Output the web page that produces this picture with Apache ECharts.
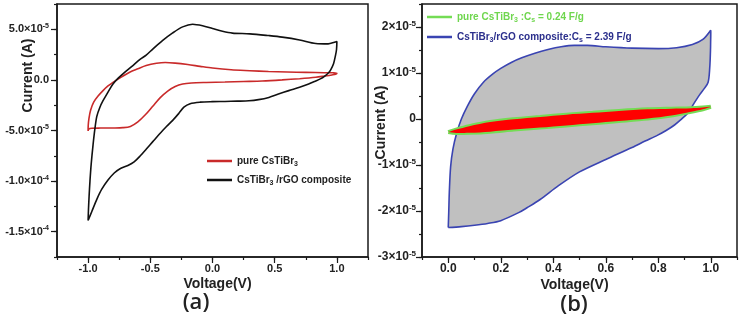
<!DOCTYPE html>
<html><head><meta charset="utf-8">
<script src="https://cdn.jsdelivr.net/npm/echarts@6/dist/echarts.min.js"></script>
<style>html,body{margin:0;padding:0;background:#fff}#c{width:741px;height:323px}</style>
</head><body><div id="c"></div>
<script>
// ---------- Panel (a): CV loops, Voltage (V) vs Current (A) ----------
const aPureLoop = [
[-1.0,-5.04e-5],[-0.999,-4.5e-5],[-0.993,-3.8e-5],[-0.98,-3.0e-5],[-0.955,-2.2e-5],[-0.92,-1.6e-5],[-0.88,-1.06e-5],[-0.84,-6.0e-6],[-0.8,-2.4e-6],[-0.73,3.0e-6],[-0.666,7.6e-6],[-0.6,1.1e-5],[-0.533,1.42e-5],[-0.45,1.64e-5],[-0.38,1.72e-5],[-0.3,1.66e-5],[-0.2,1.52e-5],[-0.1,1.34e-5],[0.0,1.17e-5],[0.15,1.0e-5],[0.3,9.1e-6],[0.45,8.3e-6],[0.6,7.8e-6],[0.75,7.4e-6],[0.9,7.1e-6],[0.97,7.0e-6],[1.0,6.6e-6],
[0.99,5.6e-6],[0.96,4.9e-6],[0.9,3.8e-6],[0.83,2.6e-6],[0.7,1.2e-6],[0.56,0],[0.4,-1.1e-6],[0.25,-1.6e-6],[0.1,-2.1e-6],[-0.05,-2.5e-6],[-0.17,-3.0e-6],[-0.24,-4.0e-6],[-0.3,-6.5e-6],[-0.36,-1.1e-5],[-0.42,-1.75e-5],[-0.48,-2.6e-5],[-0.54,-3.45e-5],[-0.6,-4.15e-5],[-0.66,-4.6e-5],[-0.72,-4.72e-5],[-0.8,-4.75e-5],[-0.9,-4.76e-5],[-0.97,-4.78e-5],[-0.995,-4.85e-5],[-1.0,-5.04e-5]
];
const aCompositeLoop = [
[-1.0,-1.39e-4],[-0.997,-1.28e-4],[-0.992,-1.15e-4],[-0.985,-1.0e-4],[-0.975,-8.3e-5],[-0.96,-6.4e-5],[-0.945,-4.8e-5],[-0.93,-3.6e-5],[-0.905,-2.7e-5],[-0.88,-2.06e-5],[-0.84,-1.2e-5],[-0.8,-4e-6],[-0.76,1.5e-6],[-0.72,6e-6],[-0.64,1.42e-5],[-0.58,2.05e-5],[-0.533,2.45e-5],[-0.48,3.05e-5],[-0.4,3.9e-5],[-0.32,4.64e-5],[-0.24,5.24e-5],[-0.16,5.5e-5],[-0.08,5.35e-5],[0.0,5.07e-5],[0.08,4.8e-5],[0.16,4.62e-5],[0.3,4.55e-5],[0.45,4.38e-5],[0.56,4.23e-5],[0.7,3.95e-5],[0.83,3.6e-5],[0.93,3.56e-5],[0.98,3.72e-5],[1.0,3.8e-5],
[0.997,3.0e-5],[0.99,2.5e-5],[0.973,1.6e-5],[0.95,1.0e-5],[0.933,7e-6],[0.9,3.5e-6],[0.867,1e-6],[0.82,-1.5e-6],[0.773,-4e-6],[0.7,-7.2e-6],[0.613,-1.06e-5],[0.53,-1.4e-5],[0.453,-1.73e-5],[0.37,-1.95e-5],[0.293,-2.06e-5],[0.2,-2.1e-5],[0.1,-2.13e-5],[0.0,-2.15e-5],[-0.1,-2.2e-5],[-0.18,-2.35e-5],[-0.23,-2.7e-5],[-0.27,-3.3e-5],[-0.32,-4.0e-5],[-0.37,-4.6e-5],[-0.43,-5.4e-5],[-0.48,-6.1e-5],[-0.53,-6.8e-5],[-0.58,-7.5e-5],[-0.63,-8.1e-5],[-0.68,-8.45e-5],[-0.74,-8.75e-5],[-0.79,-9.2e-5],[-0.84,-9.9e-5],[-0.89,-1.08e-4],[-0.93,-1.18e-4],[-0.97,-1.3e-4],[-1.0,-1.39e-4]
];
// ---------- Panel (b) ----------
const bCompositeLoop = [
[0,-2.36e-5],[0.002,-2.0e-5],[0.004,-1.6e-5],[0.009,-1.04e-5],[0.018,-0.65e-5],[0.032,-0.31e-5],[0.05,0],[0.073,0.28e-5],[0.1,0.55e-5],[0.134,0.8e-5],[0.17,0.98e-5],[0.2,1.1e-5],[0.24,1.23e-5],[0.28,1.33e-5],[0.33,1.43e-5],[0.38,1.51e-5],[0.43,1.57e-5],[0.48,1.6e-5],[0.53,1.6e-5],[0.6,1.57e-5],[0.7,1.54e-5],[0.8,1.53e-5],[0.87,1.55e-5],[0.93,1.62e-5],[0.97,1.73e-5],[1.0,1.93e-5],
[0.999,1.5e-5],[0.996,1.1e-5],[0.99,0.8e-5],[0.975,0.66e-5],[0.958,0.53e-5],[0.935,0.33e-5],[0.913,0.13e-5],[0.885,-0.02e-5],[0.862,-0.13e-5],[0.83,-0.25e-5],[0.798,-0.35e-5],[0.75,-0.48e-5],[0.7,-0.62e-5],[0.6,-0.88e-5],[0.5,-1.15e-5],[0.42,-1.45e-5],[0.35,-1.75e-5],[0.3,-1.93e-5],[0.27,-2.03e-5],[0.2,-2.21e-5],[0.15,-2.27e-5],[0.1,-2.31e-5],[0.05,-2.34e-5],[0,-2.36e-5]
];
const bPureLoop = [
[0,-2.85e-6],[0.03,-2.3e-6],[0.08,-1.55e-6],[0.16,-0.65e-6],[0.25,-0.05e-6],[0.35,0.45e-6],[0.45,0.95e-6],[0.55,1.35e-6],[0.65,1.75e-6],[0.76,2.1e-6],[0.85,2.25e-6],[0.925,2.35e-6],[0.97,2.5e-6],[1.0,2.64e-6],
[0.97,2.1e-6],[0.925,1.55e-6],[0.85,0.75e-6],[0.76,0.1e-6],[0.65,-0.45e-6],[0.55,-0.92e-6],[0.45,-1.4e-6],[0.35,-1.87e-6],[0.25,-2.3e-6],[0.16,-2.75e-6],[0.08,-3.0e-6],[0.03,-3.05e-6],[0,-2.85e-6]
];
// ---------- Tick labels ----------
const aXTickValues = [-1.0,-0.5,0,0.5,1.0];
const aXTickLabels = ['-1.0','-0.5','0.0','0.5','1.0'];
const aYTickValues = [-1.5e-4,-1.0e-4,-5.0e-5,0,5.0e-5];
const aYTickLabels = ['-1.5×10^-4','-1.0×10^-4','-5.0×10^-5','0.0','5.0×10^-5'];
const bXTickValues = [0,0.2,0.4,0.6,0.8,1.0];
const bXTickLabels = ['0.0','0.2','0.4','0.6','0.8','1.0'];
const bYTickValues = [-3e-5,-2e-5,-1e-5,0,1e-5,2e-5];
const bYTickLabels = ['-3×10^-5','-2×10^-5','-1×10^-5','0','1×10^-5','2×10^-5'];
const seriesNamesA = ['pure CsTiBr3','CsTiBr3 /rGO composite'];
const seriesNamesB = ['pure CsTiBr3 :Cs = 0.24 F/g','CsTiBr3/rGO composite:Cs = 2.39 F/g'];
const legendRich = {
  'pure CsTiBr3':'pure CsTiBr{sub|3}',
  'CsTiBr3 /rGO composite':'CsTiBr{sub|3} /rGO composite',
  'pure CsTiBr3 :Cs = 0.24 F/g':'pure CsTiBr{sub|3} :C{sub|s} = 0.24 F/g',
  'CsTiBr3/rGO composite:Cs = 2.39 F/g':'CsTiBr{sub|3}/rGO composite:C{sub|s} = 2.39 F/g'
};

const FONT = '"Liberation Sans", Arial, sans-serif';
const AX = '#1a1a1a';

function toRich(s){
  if (s.indexOf('^') >= 0){ const p = s.split('^'); return '{m|'+p[0]+'}{s|'+p[1]+'}'; }
  return '{m|'+s+'}';
}
function lookup(values, labels, eps, rich){
  return function(v){
    for (let i=0;i<values.length;i++) if (Math.abs(v-values[i]) < eps) return rich ? toRich(labels[i]) : labels[i];
    return '';
  };
}
function mainAxis(dim, grid, min, max, step, values, labels, fs, margin, name, nameGap, namePad){
  const isY = dim === 'y';
  return {
    type:'value', gridIndex:grid, min:min, max:max, interval:step,
    position: isY ? 'left' : 'bottom',
    axisLine:{show:true, onZero:false, lineStyle:{color:AX, width:1.5}},
    axisTick:{show:true, length:3, lineStyle:{color:AX, width:1.2}},
    splitLine:{show:false},
    axisLabel:{
      customValues: values, margin: margin,
      formatter: lookup(values, labels, step*1e-3, isY),
      color:'#222', fontFamily:FONT, fontWeight:'bold', fontSize:fs,
      rich: isY ? {
        m:{fontFamily:FONT, fontWeight:'bold', fontSize:fs, color:'#222', lineHeight:14},
        s:{fontFamily:FONT, fontWeight:'bold', fontSize:Math.round(fs*0.65), color:'#222', lineHeight:6, verticalAlign:'top'}
      } : undefined
    },
    name:name, nameLocation:'middle', nameGap:nameGap, nameMoveOverlap:false,
    nameTextStyle:{fontFamily:FONT, fontWeight:'bold', fontSize:14, color:'#222', padding:namePad}
  };
}
function majorAxis(dim, grid, min, max, values){
  return {
    type:'value', gridIndex:grid, min:min, max:max,
    position: dim === 'y' ? 'left' : 'bottom',
    axisLine:{show:false, onZero:false},
    axisTick:{show:true, length:6, customValues:values, lineStyle:{color:AX, width:1.2}},
    axisLabel:{show:false}, splitLine:{show:false}
  };
}
function polyFill(xi, yi, pts, color, z){
  return {
    type:'custom', xAxisIndex:xi, yAxisIndex:yi, z:z, silent:true,
    data: pts,
    encode:{x:0, y:1},
    renderItem: function(params, api){
      if (params.dataIndex !== 0) return null;
      return {type:'polygon', shape:{points: pts.map(p => api.coord(p)), smooth:0.3},
              style:{fill:color, stroke:null}};
    }
  };
}
function loopLine(name, xi, yi, pts, color, w, z){
  return {type:'line', name:name, xAxisIndex:xi, yAxisIndex:yi, data:pts, z:z,
    symbol:'none', showSymbol:false, smooth:0.3, clip:false,
    lineStyle:{color:color, width:w}, itemStyle:{color:color}};
}

const chart = echarts.init(document.getElementById('c'), null, {renderer:'canvas'});
const legendText = fs => ({fontFamily:FONT, fontWeight:'bold', fontSize:fs, lineHeight:14,
  rich:{sub:{fontFamily:FONT, fontWeight:'bold', fontSize:Math.round(fs*0.7), lineHeight:6, verticalAlign:'bottom'}}});
chart.setOption({
  animation:false,
  backgroundColor:'#fff',
  grid:[
    {left:57, top:4, width:311, height:253, show:true, borderColor:AX, borderWidth:1.5, backgroundColor:'transparent', containLabel:false, outerBoundsMode:'none'},
    {left:422, top:4, width:315, height:253, show:true, borderColor:AX, borderWidth:1.5, backgroundColor:'transparent', containLabel:false, outerBoundsMode:'none'}
  ],
  xAxis:[
    mainAxis('x',0,-1.25,1.25,0.25,aXTickValues,aXTickLabels,11,6,'Voltage(V)',20,[0,0,0,10]),
    majorAxis('x',0,-1.25,1.25,aXTickValues),
    mainAxis('x',1,-0.1,1.1,0.1,bXTickValues,bXTickLabels,12,6,'Voltage(V)',21,[0,10,0,0]),
    majorAxis('x',1,-0.1,1.1,bXTickValues)
  ],
  yAxis:[
    mainAxis('y',0,-1.75e-4,7.5e-5,2.5e-5,aYTickValues,aYTickLabels,11,8,'Current (A)',22,[0,0,0,110]),
    majorAxis('y',0,-1.75e-4,7.5e-5,aYTickValues),
    mainAxis('y',1,-3e-5,2.5e-5,5e-6,bYTickValues,bYTickLabels,12,6,'Current (A)',34,[0,0,0,16]),
    majorAxis('y',1,-3e-5,2.5e-5,bYTickValues)
  ],
  legend:[
    {data:[{name:seriesNamesA[0], icon:'rect'},{name:seriesNamesA[1], icon:'rect'}],
     left:207, top:154, orient:'vertical', itemWidth:25, itemHeight:2.5, itemGap:5, padding:0,
     textStyle:Object.assign({color:'#222'}, legendText(10)), formatter:n => legendRich[n]},
    {data:[{name:seriesNamesB[0], icon:'rect', textStyle:{color:'#6fd64e'}},{name:seriesNamesB[1], icon:'rect', textStyle:{color:'#2b2f8c'}}],
     left:427, top:10, orient:'vertical', itemWidth:25, itemHeight:2.5, itemGap:6, padding:0,
     textStyle:legendText(10), formatter:n => legendRich[n]}
  ],
  series:[
    loopLine(seriesNamesA[0],0,0,aPureLoop,'#c92a2a',1.6,3),
    loopLine(seriesNamesA[1],0,0,aCompositeLoop,'#111',1.6,4),
    polyFill(2,2,bCompositeLoop,'#c0c0c0',1),
    loopLine(seriesNamesB[1],2,2,bCompositeLoop,'#3a44b2',1.6,3),
    loopLine(seriesNamesB[0],2,2,bPureLoop,'#74dc55',4,4),
    polyFill(2,2,bPureLoop,'#ff0000',5)
  ],
  graphic:[
    {type:'text', x:196, y:303, style:{text:'(a)', font:'600 22px "Open Sans", sans-serif', fill:'#222', textAlign:'center', textVerticalAlign:'middle'}},
    {type:'text', x:574, y:305, style:{text:'(b)', font:'600 22px "Open Sans", sans-serif', fill:'#222', textAlign:'center', textVerticalAlign:'middle'}}
  ]
});
</script></body></html>
